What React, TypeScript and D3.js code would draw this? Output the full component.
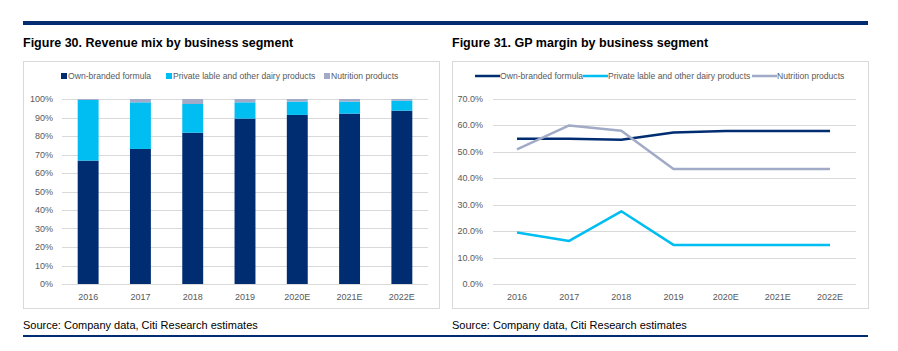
import React, { useEffect, useRef } from 'react';
import * as d3 from 'd3';

const years = ['2016', '2017', '2018', '2019', '2020E', '2021E', '2022E'];
const seriesNames = ['Own-branded formula', 'Private lable and other dairy products', 'Nutrition products'];
const colors = ['#002d72', '#00bdf2', '#a1abc8'];

// revenue mix (%)
const mixOwn = [66.7, 73.0, 81.8, 89.4, 91.4, 92.1, 93.7];
const mixPrivate = [32.8, 25.2, 15.5, 8.8, 7.2, 6.5, 5.4];
const mixNutrition = [0.5, 1.8, 2.7, 1.8, 1.4, 1.4, 0.9];
const mixTicks = [0, 10, 20, 30, 40, 50, 60, 70, 80, 90, 100];

// GP margin (%)
const gpOwn = [55.0, 55.0, 54.6, 57.3, 57.9, 57.9, 57.9];
const gpPrivate = [19.5, 16.3, 27.5, 14.8, 14.8, 14.8, 14.8];
const gpNutrition = [50.9, 60.0, 58.0, 43.5, 43.5, 43.5, 43.5];
const gpTicks = [0, 10, 20, 30, 40, 50, 60, 70];

const W = 898;
const H = 351;
const font = "'Liberation Sans Narrow', 'Liberation Sans', Arial, sans-serif";
const titleFont = "'Liberation Sans', Arial, sans-serif";

const App: React.FC = () => {
  const ref = useRef<SVGSVGElement>(null);

  useEffect(() => {
    const svg = d3.select(ref.current).attr('width', W).attr('height', H);
    svg.selectAll('*').remove();

    // rules
    svg.append('rect').attr('x', 23).attr('y', 21).attr('width', 845).attr('height', 4).attr('fill', '#002d72');
    svg.append('rect').attr('x', 23).attr('y', 335).attr('width', 845).attr('height', 2).attr('fill', '#002d72');

    const panels = [
      { x0: 23, x1: 439, title: 'Figure 30. Revenue mix by business segment' },
      { x0: 452, x1: 868, title: 'Figure 31. GP margin by business segment' },
    ];
    panels.forEach((p) => {
      svg
        .append('text')
        .attr('x', p.x0)
        .attr('y', 47)
        .attr('font-family', titleFont)
        .attr('font-weight', 'bold')
        .attr('font-size', 12.5)
        .attr('fill', '#000')
        .text(p.title);
      svg
        .append('rect')
        .attr('x', p.x0 + 0.5)
        .attr('y', 61.5)
        .attr('width', p.x1 - p.x0)
        .attr('height', 247)
        .attr('fill', 'none')
        .attr('stroke', '#d9d9d9');
      svg
        .append('text')
        .attr('x', p.x0)
        .attr('y', 329)
        .attr('font-family', font)
        .attr('font-size', 11)
        .attr('fill', '#000')
        .text('Source: Company data, Citi Research estimates');
    });

    // ---- left: stacked bars ----
    const xL = d3.scaleBand<string>().domain(years).range([62, 428]).paddingInner(0.6).paddingOuter(0.3);
    const yL = d3.scaleLinear().domain([0, 100]).range([284, 99]);
    const gL = svg.append('g');

    gL.append('g')
      .selectAll('line')
      .data(mixTicks)
      .join('line')
      .attr('x1', 62)
      .attr('x2', 428)
      .attr('y1', (d) => Math.round(yL(d)) + 0.5)
      .attr('y2', (d) => Math.round(yL(d)) + 0.5)
      .attr('stroke', '#d9d9d9');

    gL.append('g')
      .selectAll('text')
      .data(mixTicks)
      .join('text')
      .attr('x', 53)
      .attr('y', (d) => yL(d) + 3)
      .attr('text-anchor', 'end')
      .attr('font-family', font)
      .attr('font-size', 9)
      .attr('fill', '#595959')
      .text((d) => `${d}%`);

    const table = years.map((y, i) => ({ year: y, own: mixOwn[i], priv: mixPrivate[i], nut: mixNutrition[i] }));
    const stack = d3.stack<any>().keys(['own', 'priv', 'nut'])(table);
    stack.forEach((s, si) => {
      gL.append('g')
        .selectAll('rect')
        .data(s)
        .join('rect')
        .attr('x', (d) => xL(d.data.year)!)
        .attr('width', xL.bandwidth())
        .attr('y', (d) => yL(d[1]))
        .attr('height', (d) => yL(d[0]) - yL(d[1]))
        .attr('fill', colors[si]);
    });

    gL.append('g')
      .selectAll('text')
      .data(years)
      .join('text')
      .attr('x', (d) => xL(d)! + xL.bandwidth() / 2)
      .attr('y', 300)
      .attr('text-anchor', 'middle')
      .attr('font-family', font)
      .attr('font-size', 9)
      .attr('fill', '#595959')
      .text((d) => d);

    // left legend
    const legL = [61, 166, 324];
    legL.forEach((lx, i) => {
      gL.append('rect').attr('x', lx).attr('y', 73).attr('width', 6).attr('height', 6).attr('fill', colors[i]);
      gL.append('text')
        .attr('x', lx + 7)
        .attr('y', 79)
        .attr('font-family', font)
        .attr('font-size', 8.6)
        .attr('fill', '#595959')
        .text(seriesNames[i]);
    });

    // ---- right: lines ----
    const xR = d3.scalePoint<string>().domain(years).range([517, 830]);
    const yR = d3.scaleLinear().domain([0, 70]).range([284, 99]);
    const gR = svg.append('g');

    gR.append('g')
      .selectAll('line')
      .data(gpTicks)
      .join('line')
      .attr('x1', 493)
      .attr('x2', 856)
      .attr('y1', (d) => Math.round(yR(d)) + 0.5)
      .attr('y2', (d) => Math.round(yR(d)) + 0.5)
      .attr('stroke', '#d9d9d9');

    gR.append('g')
      .selectAll('text')
      .data(gpTicks)
      .join('text')
      .attr('x', 483)
      .attr('y', (d) => yR(d) + 3)
      .attr('text-anchor', 'end')
      .attr('font-family', font)
      .attr('font-size', 9)
      .attr('fill', '#595959')
      .text((d) => `${d.toFixed(1)}%`);

    const line = d3
      .line<number>()
      .x((_d, i) => xR(years[i])!)
      .y((d) => yR(d));
    [gpOwn, gpPrivate, gpNutrition].forEach((s, i) => {
      gR.append('path')
        .attr('d', line(s))
        .attr('fill', 'none')
        .attr('stroke', colors[i])
        .attr('stroke-width', 2.5)
        .attr('stroke-linejoin', 'round');
    });

    gR.append('g')
      .selectAll('text')
      .data(years)
      .join('text')
      .attr('x', (d) => xR(d)!)
      .attr('y', 300)
      .attr('text-anchor', 'middle')
      .attr('font-family', font)
      .attr('font-size', 9)
      .attr('fill', '#595959')
      .text((d) => d);

    // right legend
    const legR = [475, 583, 752];
    legR.forEach((lx, i) => {
      gR.append('line')
        .attr('x1', lx)
        .attr('x2', lx + 25)
        .attr('y1', 76)
        .attr('y2', 76)
        .attr('stroke', colors[i])
        .attr('stroke-width', 2.5);
      gR.append('text')
        .attr('x', lx + 25)
        .attr('y', 79)
        .attr('font-family', font)
        .attr('font-size', 8.6)
        .attr('fill', '#595959')
        .text(seriesNames[i]);
    });
  }, []);

  return <svg ref={ref} style={{ position: 'absolute', left: 0, top: 0 }}></svg>;
};

export default App;
